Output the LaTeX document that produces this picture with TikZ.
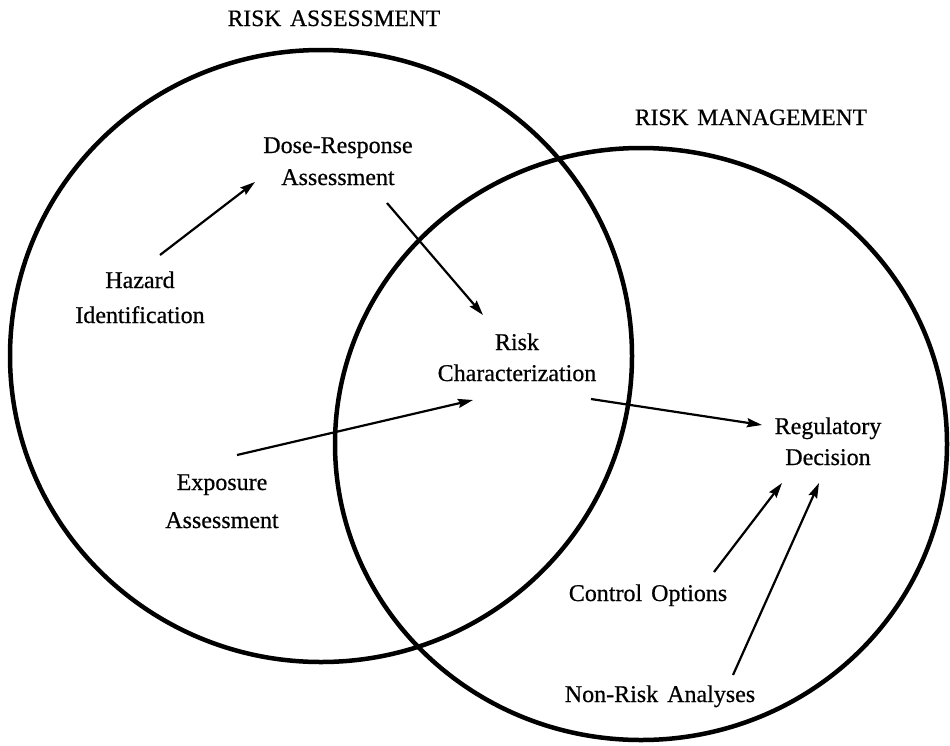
\documentclass[tikz,border=0pt]{standalone}
\usepackage{fontspec}
\setmainfont[WordSpace=1.5, FakeBold=0.6]{Liberation Serif}
\usetikzlibrary{arrows.meta}
\begin{document}
\begin{tikzpicture}[x=1pt,y=-1pt,
  lbl/.style={font=\fontsize{24}{32}\selectfont, align=center, inner sep=0pt, anchor=base},
  head/.style={font=\fontsize{23.5}{32}\selectfont, inner sep=0pt, anchor=base},
  circ/.style={line width=4.5pt},
  arr/.style={line width=2.2pt, -{Stealth[length=15pt,width=9pt,inset=2pt]}}]
\useasboundingbox (0,0) rectangle (950,745);
\fill[white] (0,0) rectangle (950,745);
% circles
\draw[circ] (321,356) ellipse [x radius=311, y radius=306];
\draw[circ] (641,444) ellipse [x radius=306, y radius=296];
% headings
\node[head] (ra) at (334,26) {RISK ASSESSMENT};
\node[head] (rm) at (751,125) {RISK MANAGEMENT};
% texts (anchor = baseline of last line)
\node[lbl] (dose) at (338,185) {Dose-Response\\Assessment};
\node[lbl] (haz) at (140,323) {Hazard\\[3pt]Identification};
\node[lbl] (risk) at (517,381) {Risk\\[-1pt]Characterization};
\node[lbl] (expo) at (222,528) {Exposure\\[6pt]Assessment};
\node[lbl] (reg) at (828,465) {Regulatory\\[-1pt]Decision};
\node[lbl] (ctrl) at (648,601) {Control Options};
\node[lbl] (nonrisk) at (660,702) {Non-Risk Analyses};
% arrow endpoints
\coordinate (h1) at (160,255);
\coordinate (d1) at (255,182);
\coordinate (d2) at (387,203);
\coordinate (r1) at (483,315);
\coordinate (e1) at (237,455);
\coordinate (r2) at (473,400);
\coordinate (r3) at (591,399);
\coordinate (g1) at (762,425);
\coordinate (c1) at (714,572);
\coordinate (g2) at (782,483);
\coordinate (n1) at (733,675);
\coordinate (g3) at (819,483);
% arrows
\draw[arr] (h1) -- (d1);
\draw[arr] (d2) -- (r1);
\draw[arr] (e1) -- (r2);
\draw[arr] (r3) -- (g1);
\draw[arr] (c1) -- (g2);
\draw[arr] (n1) -- (g3);
\end{tikzpicture}
\end{document}
